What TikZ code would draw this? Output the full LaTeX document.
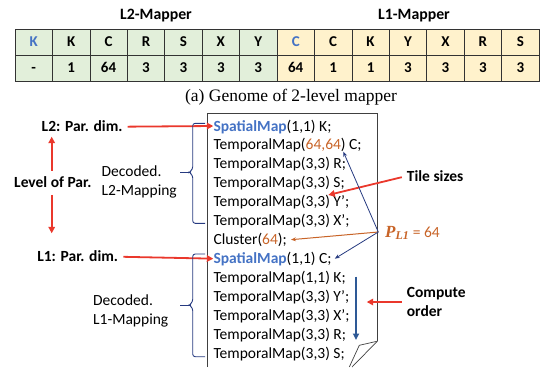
\documentclass[tikz,border=0pt]{standalone}
\usepackage{fontspec}
\setmainfont{Liberation Serif}
\setsansfont{Carlito}
\usepackage{xcolor}
\usepackage{tikz}
\usetikzlibrary{positioning,arrows.meta}
\definecolor{genegreen}{RGB}{226,239,218}
\definecolor{geneyellow}{RGB}{255,242,204}
\definecolor{spblue}{RGB}{68,114,196}
\definecolor{tileorange}{RGB}{200,100,40}
\definecolor{bracenavy}{RGB}{38,58,128}
\definecolor{arrowred}{RGB}{234,56,44}
\definecolor{orderblue}{RGB}{46,89,150}
% one genome cell: name, column, row, fill, entry
\newcommand{\gcell}[5]{
	\node[gcell, fill=#4] (#1) at ({15+37.43*(#2-0.5)},{29+26*(#3-0.5)}) {#5};
}
% curly brace in front of a mapping: top, tip, bottom
\newcommand{\mapbrace}[3]{
	\draw[bracenavy, line width=0.9pt, rounded corners=2.5pt] (205,#1) -- (192.7,#1) -- (192.7,#2-3) -- (189,#2) -- (192.7,#2+3) -- (192.7,#3) -- (205,#3);
	\draw[bracenavy, line width=0.9pt] (180,#2) -- (189.5,#2);
}
\newcommand{\spmap}{\textcolor{spblue}{\textbf{SpatialMap}}}
\newcommand{\tmap}{TemporalMap}
\newcommand{\tilenum}[1]{\textcolor{tileorange}{#1}}

\begin{document}
\begin{tikzpicture}[x=1pt, y=-1pt,
	font=\sffamily\fontsize{15.5}{19}\selectfont,
	gcell/.style={draw=black!80, line width=0.7pt, minimum width=37.43pt, minimum height=26pt, inner sep=0pt,
		font=\sffamily\bfseries\fontsize{15}{18}\selectfont, text height=9.7pt, text depth=0pt},
	codeline/.style={anchor=west, inner sep=0pt, text height=12pt, text depth=2pt},
	lbl/.style={inner sep=0pt, text height=12pt, text depth=2pt},
	redarrow/.style={draw=arrowred, line width=1.8pt, -{Triangle[length=6.5pt,width=6.5pt]}, shorten <=5pt},
	navyarrow/.style={draw=bracenavy, line width=0.8pt, -{Stealth[length=5pt,width=4pt]}},
	orangearrow/.style={draw=tileorange, line width=1pt, -{Stealth[length=5pt,width=4pt]}},
	orderarrow/.style={draw=orderblue, line width=2pt, -{Triangle[length=6.5pt,width=6pt]}}]
	\useasboundingbox (0,0) rectangle (540,367);
	
	%genome titles
	\node[font=\sffamily\bfseries\fontsize{15.8}{18}\selectfont] (l2title) at (156,15.7) {L2-Mapper};
	\node[font=\sffamily\bfseries\fontsize{15.8}{18}\selectfont] (l1title) at (414,15.7) {L1-Mapper};
	%
	%L2 genome
	\gcell{a1}{1}{1}{genegreen}{\textcolor{spblue}{K}} \gcell{a2}{2}{1}{genegreen}{K} \gcell{a3}{3}{1}{genegreen}{C} \gcell{a4}{4}{1}{genegreen}{R}
	\gcell{a5}{5}{1}{genegreen}{S} \gcell{a6}{6}{1}{genegreen}{X} \gcell{a7}{7}{1}{genegreen}{Y}
	\gcell{b1}{1}{2}{genegreen}{-} \gcell{b2}{2}{2}{genegreen}{1} \gcell{b3}{3}{2}{genegreen}{64} \gcell{b4}{4}{2}{genegreen}{3}
	\gcell{b5}{5}{2}{genegreen}{3} \gcell{b6}{6}{2}{genegreen}{3} \gcell{b7}{7}{2}{genegreen}{3}
	%
	%L1 genome
	\gcell{a8}{8}{1}{geneyellow}{\textcolor{spblue}{C}} \gcell{a9}{9}{1}{geneyellow}{C} \gcell{a10}{10}{1}{geneyellow}{K} \gcell{a11}{11}{1}{geneyellow}{Y}
	\gcell{a12}{12}{1}{geneyellow}{X} \gcell{a13}{13}{1}{geneyellow}{R} \gcell{a14}{14}{1}{geneyellow}{S}
	\gcell{b8}{8}{2}{geneyellow}{64} \gcell{b9}{9}{2}{geneyellow}{1} \gcell{b10}{10}{2}{geneyellow}{1} \gcell{b11}{11}{2}{geneyellow}{3}
	\gcell{b12}{12}{2}{geneyellow}{3} \gcell{b13}{13}{2}{geneyellow}{3} \gcell{b14}{14}{2}{geneyellow}{3}
	%
	\node[font=\rmfamily\fontsize{17.5}{20}\selectfont] (caption) at (291,96.7) {(a) Genome of 2-level mapper};
	
	%decoded mapping sheet
	\draw[black!75, line width=0.8pt] (207.3,367) -- (207.3,113.3) -- (377.3,113.3) -- (377.3,341.2);
	\draw[black!75, line width=0.7pt] (377.3,341.2) -- (359.3,345.3) -- (349.3,367);
	\draw[black!75, line width=0.7pt] (377.3,341.2) -- (352,367);
	%
	\node[codeline] (ln1) at (213.3,126) {\spmap(1,1) K;};
	\node[codeline] (ln2) at (213.3,144.95) {\tmap(\tilenum{64,64}) C;};
	\node[codeline] (ln3) at (213.3,163.9) {\tmap(3,3) R;};
	\node[codeline] (ln4) at (213.3,182.85) {\tmap(3,3) S;};
	\node[codeline] (ln5) at (213.3,201.8) {\tmap(3,3) Y’;};
	\node[codeline] (ln6) at (213.3,220.75) {\tmap(3,3) X’;};
	\node[codeline] (ln7) at (213.3,239.7) {Cluster(\tilenum{64});};
	\node[codeline] (ln8) at (213.3,258.65) {\spmap(1,1) C;};
	\node[codeline] (ln9) at (213.3,277.6) {\tmap(1,1) K;};
	\node[codeline] (ln10) at (213.3,296.55) {\tmap(3,3) Y’;};
	\node[codeline] (ln11) at (213.3,315.5) {\tmap(3,3) X’;};
	\node[codeline] (ln12) at (213.3,334.45) {\tmap(3,3) R;};
	\node[codeline] (ln13) at (213.3,353.4) {\tmap(3,3) S;};
	
	%left side: levels of parallelism
	\node[lbl, anchor=east, font=\sffamily\bfseries\fontsize{15.5}{19}\selectfont] (l2par) at (122.7,126.7) {L2: Par. dim.};
	\node[lbl, anchor=east, font=\sffamily\bfseries\fontsize{15.5}{19}\selectfont] (l1par) at (118.3,256.7) {L1: Par. dim.};
	\node[lbl, anchor=west, font=\sffamily\bfseries\fontsize{15.5}{19}\selectfont] (level) at (14,182.7) {Level of Par.};
	\coordinate (parup) at (51.7,136.7);
	\coordinate (pardown) at (51.7,233.3);
	\draw[redarrow] (parup |- level.north) -- (parup);
	\draw[redarrow] (pardown |- level.south) -- (pardown);
	\draw[redarrow] (l2par.east) -- (ln1.west);
	\draw[redarrow] (l1par.east) -- (ln8.west);
	%
	\node[inner sep=0pt, anchor=west, align=left] (dec2) at (101.5,181.7) {Decoded.\\L2-Mapping};
	\node[inner sep=0pt, anchor=west, align=left] (dec1) at (93,311) {Decoded.\\L1-Mapping};
	\mapbrace{123.3}{172.3}{223.3}
	\mapbrace{254}{305}{356.7}
	
	%right side: tiles, parallelism and order
	\node[lbl, anchor=west, font=\sffamily\bfseries\fontsize{15.5}{19}\selectfont] (tiles) at (406.7,176) {Tile sizes};
	\coordinate (tiletip) at (328.3,195);
	\draw[redarrow] (tiles.west) -- (tiletip);
	%
	\node[lbl, anchor=west, text=tileorange] (plone) at (385,232) {{\rmfamily\bfseries\itshape\fontsize{17}{19}\selectfont P\textsubscript{L1}} = 64};
	\coordinate (plfoot) at ([xshift=-6.7pt]plone.west);
	\coordinate (tilepair) at (343.3,151.7);
	\draw[navyarrow] (plfoot) -- (tilepair);
	\draw[orangearrow] (plfoot) -- ([xshift=4pt]ln7.east);
	\draw[navyarrow] (plfoot) -- ([xshift=3pt]ln8.east);
	%
	\coordinate (ordtop) at (356,276.7);
	\coordinate (ordbot) at (356,340);
	\draw[orderarrow] (ordtop) -- (ordbot);
	\node[inner sep=0pt, anchor=west, align=left, font=\sffamily\bfseries\fontsize{15.5}{19}\selectfont] (compute) at (406.7,302) {Compute\\order};
	\coordinate (ordtip) at (366.7,302);
	\draw[redarrow] (compute.west) -- (ordtip);
\end{tikzpicture}
\end{document}
